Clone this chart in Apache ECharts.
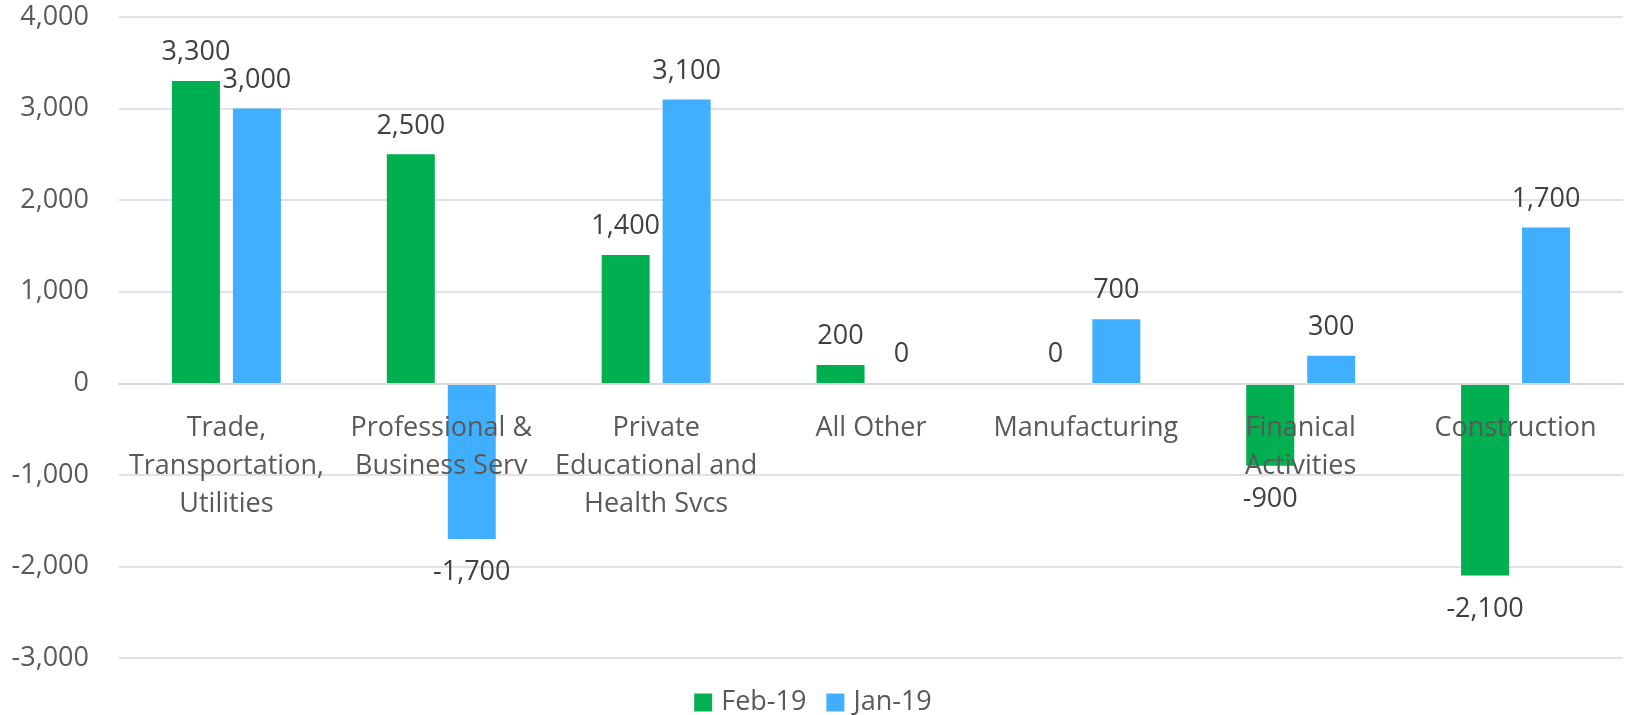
<!DOCTYPE html>
<html>
<head>
<meta charset="utf-8">
<script src="https://cdn.jsdelivr.net/npm/echarts@6/dist/echarts.min.js"></script>
<style>
html,body{margin:0;padding:0;background:#fff;}
#c{width:1626px;height:715px;}
</style>
</head>
<body>
<div id="c"></div>
<script>
const categories = [
  "Trade,\nTransportation,\nUtilities",
  "Professional &\nBusiness Serv",
  "Private\nEducational and\nHealth Svcs",
  "All Other",
  "Manufacturing",
  "Finanical\nActivities",
  "Construction"
];
const seriesNames = ["Feb-19", "Jan-19"];
const feb19 = [3300, 2500, 1400, 200, 0, -900, -2100];
const jan19 = [3000, -1700, 3100, 0, 700, 300, 1700];
const yTicks = { min: -3000, max: 4000, interval: 1000 };

const FONT = "'Open Sans', 'Noto Sans', sans-serif";
const fmt = v => Number(v).toLocaleString('en-US');

function items(arr) {
  return arr.map(v => ({
    value: v,
    label: v < 0 ? { position: 'bottom', distance: 20 } : { position: 'top', distance: 15 }
  }));
}

function barSeries(name, arr, color) {
  return {
    name: name,
    type: 'bar',
    data: items(arr),
    barWidth: 48,
    barGap: '27%',
    itemStyle: { color: color },
    z: 2,
    label: {
      show: true,
      color: '#404040',
      fontFamily: FONT,
      fontSize: 27,
      formatter: p => fmt(p.value)
    }
  };
}

const GRID = { left: 119, right: 3, top: 17, bottom: 57 };

const chart = echarts.init(document.getElementById('c'), null, { renderer: 'canvas' });
const option = {
  animation: false,
  backgroundColor: '#ffffff',
  textStyle: { fontFamily: FONT },
  grid: Object.assign({ containLabel: false, outerBoundsMode: 'none' }, GRID),
  legend: {
    data: seriesNames,
    top: 684,
    left: 'center',
    itemWidth: 18,
    itemHeight: 18,
    itemGap: 20,
    icon: 'rect',
    textStyle: { color: '#595959', fontSize: 27, fontFamily: FONT, padding: [0, 0, 0, 4] }
  },
  xAxis: {
    type: 'category',
    data: categories,
    offset: 0,
    axisLine: { onZero: false, lineStyle: { color: '#d9d9d9', width: 2 } },
    axisTick: { show: false },
    axisLabel: {
      interval: 0,
      margin: 26,
      color: '#595959',
      fontSize: 27,
      lineHeight: 38,
      fontFamily: FONT
    },
    z: 5
  },
  yAxis: {
    type: 'value',
    min: yTicks.min,
    max: yTicks.max,
    interval: yTicks.interval,
    axisLine: { show: false },
    axisTick: { show: false },
    splitLine: { lineStyle: { color: '#d9d9d9', width: 1.5 } },
    axisLabel: {
      margin: 30,
      color: '#595959',
      fontSize: 27,
      fontFamily: FONT,
      formatter: v => fmt(v)
    }
  },
  series: [
    barSeries(seriesNames[0], feb19, '#00B050'),
    barSeries(seriesNames[1], jan19, '#41AFFF')
  ]
};
chart.setOption(option);
// move the category axis (line + labels) up to the zero line, like Excel does
const zeroY = chart.convertToPixel({ yAxisIndex: 0 }, 0);
const bottomY = 715 - GRID.bottom;
chart.setOption({ xAxis: { offset: -(bottomY - zeroY) } });
</script>
</body>
</html>
